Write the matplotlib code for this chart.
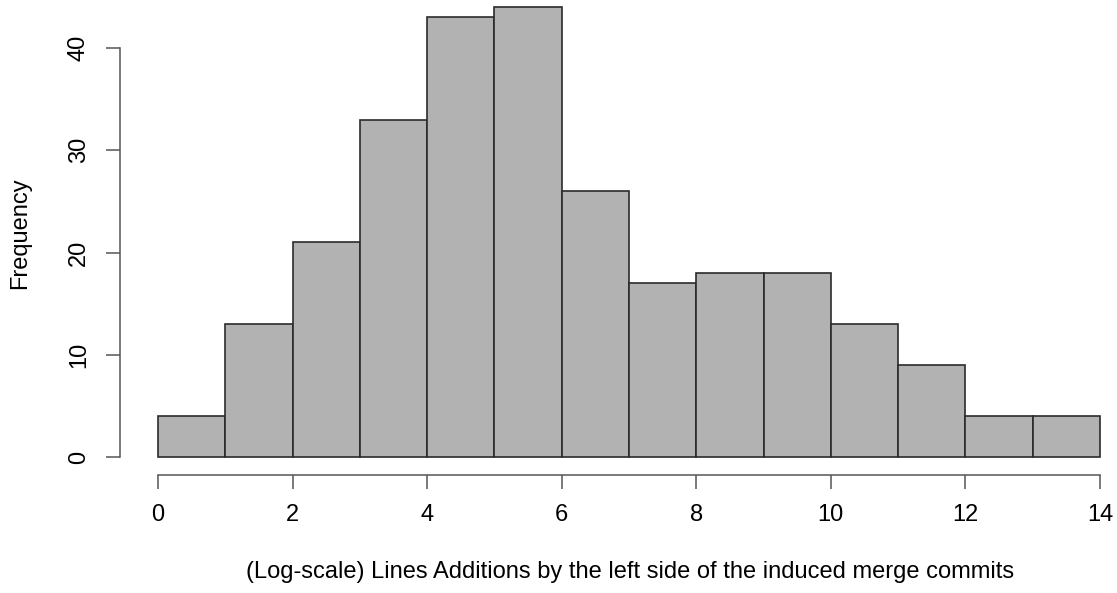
import matplotlib.pyplot as plt
import numpy as np

plt.rcParams["font.family"] = ["Liberation Sans", "DejaVu Sans"]

# histogram bins (log-scale line additions) and counts
bin_edges = [0, 1, 2, 3, 4, 5, 6, 7, 8, 9, 10, 11, 12, 13, 14]
counts = [4, 13, 21, 33, 43, 44, 26, 17, 18, 18, 13, 9, 4, 4]

x_ticks = [0, 2, 4, 6, 8, 10, 12, 14]
y_ticks = [0, 10, 20, 30, 40]

W, H = 1117, 593
fig = plt.figure(figsize=(W / 100, H / 100), dpi=100)

# R-style plot region: data range extended by 4% on each side
xlo, xhi = 0, 14
ylo, yhi = 0, 44
xpad = 0.04 * (xhi - xlo)
ypad = 0.04 * (yhi - ylo)

# pixel positions of the data range in the figure
px_x0, px_x14 = 158, 1100
px_y0, px_y40 = 457, 48
sx = (px_x14 - px_x0) / 14.0
sy = (px_y0 - px_y40) / 40.0
left_px = px_x0 - xpad * sx
right_px = px_x0 + (xhi + xpad) * sx
bottom_px = px_y0 + ypad * sy
top_px = px_y0 - (yhi + ypad) * sy

ax = fig.add_axes(
    [left_px / W, 1 - bottom_px / H, (right_px - left_px) / W, (bottom_px - top_px) / H]
)

edges = np.array(bin_edges)
ax.bar(
    edges[:-1],
    counts,
    width=np.diff(edges),
    align="edge",
    color="#b2b2b2",
    edgecolor="#2b2b2b",
    linewidth=1.2,
)

ax.set_xlim(xlo - xpad, xhi + xpad)
ax.set_ylim(ylo - ypad, yhi + ypad)

for side in ["top", "right"]:
    ax.spines[side].set_visible(False)
ax.spines["left"].set_bounds(0, 40)
ax.spines["bottom"].set_bounds(0, 14)
for side in ["left", "bottom"]:
    ax.spines[side].set_color("#555555")
    ax.spines[side].set_linewidth(1.1)

fs = 17
ax.set_xticks(x_ticks)
ax.set_yticks(y_ticks)
ax.set_yticklabels([str(v) for v in y_ticks], rotation=90, va="center")
ax.tick_params(axis="both", length=10, width=1.1, color="#555555", labelsize=fs)
ax.tick_params(axis="x", pad=11)
ax.tick_params(axis="y", pad=12)

fig.text(
    630 / W,
    1 - 572 / H,
    "(Log-scale) Lines Additions by the left side of the induced merge commits",
    ha="center",
    va="center",
    fontsize=fs,
)
fig.text(
    20 / W, 1 - 233 / H, "Frequency", rotation=90, ha="center", va="center", fontsize=fs
)

fig.savefig("out.png", dpi=100)
